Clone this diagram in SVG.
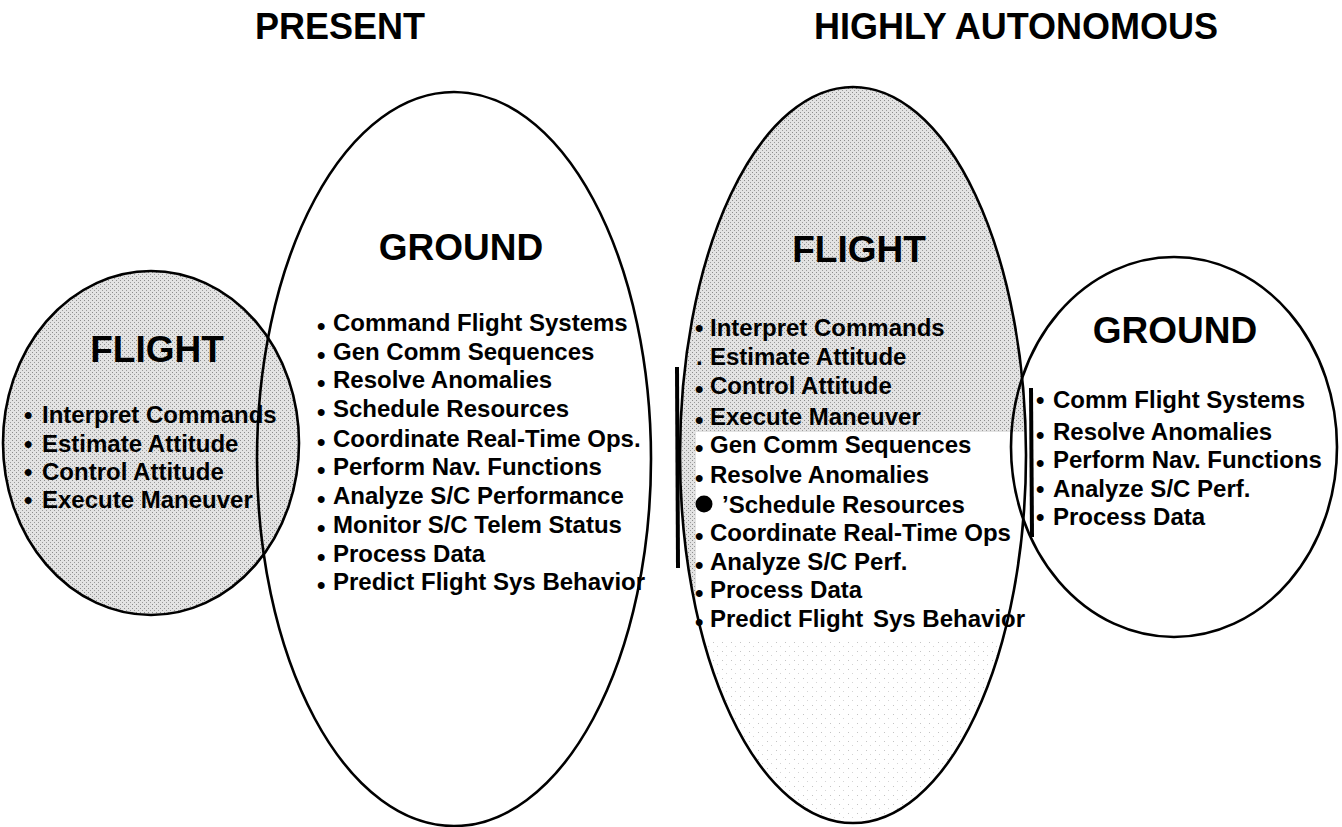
<svg xmlns="http://www.w3.org/2000/svg" width="1342" height="827" viewBox="0 0 1342 827">
  <style>
    text { font-family: "Liberation Sans", Arial, Helvetica, sans-serif; font-weight: bold; fill: #000; }
    .hdr { font-size: 36px; text-anchor: middle; }
    .ttl { font-size: 37px; text-anchor: middle; }
    .itm { font-size: 24px; }
    .bul { font-size: 24px; }
    .outline { fill: none; stroke: #000; stroke-width: 2.6; }
    .bar { fill: none; stroke: #000; stroke-width: 4; }
  </style>
  <defs>
    <pattern id="stip" width="4" height="4" patternUnits="userSpaceOnUse">
      <rect width="4" height="4" fill="#e3e3e3"/>
      <rect x="0" y="0" width="1" height="1" fill="#8c8c8c"/>
      <rect x="2" y="2" width="1" height="1" fill="#9a9a9a"/>
    </pattern>
    <pattern id="stipLight" width="9" height="9" patternUnits="userSpaceOnUse">
      <rect width="9" height="9" fill="#ffffff"/>
      <rect x="2" y="3" width="1" height="1" fill="#c4c4c4"/>
      <rect x="6" y="7" width="1" height="1" fill="#d4d4d4"/>
    </pattern>
    <clipPath id="cpF2">
      <ellipse cx="853" cy="455" rx="173" ry="368"/>
    </clipPath>
  </defs>
  <rect width="1342" height="827" fill="#fff"/>

  <!-- Headers -->
  <g id="header-present"><text class="hdr" x="340" y="39">PRESENT</text></g>
  <g id="header-autonomous"><text class="hdr" x="1016" y="39">HIGHLY AUTONOMOUS</text></g>

  <!-- PRESENT: Flight circle -->
  <g id="present-flight">
    <ellipse cx="151" cy="443" rx="148" ry="172" fill="url(#stip)"/>
    <ellipse class="outline" cx="151" cy="443" rx="148" ry="172"/>
    <text class="ttl" x="157" y="362">FLIGHT</text>
    <text class="bul" x="24" y="423">•</text><text class="itm" x="42" y="423">Interpret Commands</text>
    <text class="bul" x="24" y="452">•</text><text class="itm" x="42" y="452">Estimate Attitude</text>
    <text class="bul" x="24" y="480">•</text><text class="itm" x="42" y="480">Control Attitude</text>
    <text class="bul" x="24" y="508">•</text><text class="itm" x="42" y="508">Execute Maneuver</text>
  </g>

  <!-- PRESENT: Ground ellipse -->
  <g id="present-ground">
    <ellipse class="outline" cx="454" cy="459" rx="197" ry="367"/>
    <text class="ttl" x="461" y="260">GROUND</text>
    <text class="bul" x="317" y="334">•</text><text class="itm" x="333" y="331">Command Flight Systems</text>
    <text class="bul" x="317" y="363">•</text><text class="itm" x="333" y="360">Gen Comm Sequences</text>
    <text class="bul" x="317" y="391">•</text><text class="itm" x="333" y="388">Resolve Anomalies</text>
    <text class="bul" x="317" y="420">•</text><text class="itm" x="333" y="417">Schedule Resources</text>
    <text class="bul" x="317" y="450">•</text><text class="itm" x="333" y="447">Coordinate Real-Time Ops.</text>
    <text class="bul" x="317" y="478">•</text><text class="itm" x="333" y="475">Perform Nav. Functions</text>
    <text class="bul" x="317" y="507">•</text><text class="itm" x="333" y="504">Analyze S/C Performance</text>
    <text class="bul" x="317" y="536">•</text><text class="itm" x="333" y="533">Monitor S/C Telem Status</text>
    <text class="bul" x="317" y="565">•</text><text class="itm" x="333" y="562">Process Data</text>
    <text class="bul" x="317" y="593">•</text><text class="itm" x="333" y="590">Predict Flight Sys Behavior</text>
  </g>

  <!-- HIGHLY AUTONOMOUS: Flight ellipse -->
  <g id="auto-flight">
    <g clip-path="url(#cpF2)">
      <rect x="670" y="80" width="370" height="352" fill="url(#stip)"/>
      <rect x="670" y="432" width="26" height="270" fill="url(#stip)"/>
      <rect x="670" y="640" width="370" height="190" fill="url(#stipLight)"/>
    </g>
    <ellipse class="outline" cx="853" cy="455" rx="173" ry="368"/>
    <path class="bar" d="M677,367 L678,568"/>
    <text class="ttl" x="859" y="262">FLIGHT</text>
    <text class="bul" x="695" y="336">•</text><text class="itm" x="710" y="336">Interpret Commands</text>
    <text class="bul" x="696" y="365">.</text><text class="itm" x="710" y="365">Estimate Attitude</text>
    <text class="bul" x="695" y="397">•</text><text class="itm" x="710" y="394">Control Attitude</text>
    <text class="bul" x="695" y="428">•</text><text class="itm" x="710" y="425">Execute Maneuver</text>
    <text class="bul" x="695" y="456">•</text><text class="itm" x="710" y="453">Gen Comm Sequences</text>
    <text class="bul" x="695" y="486">•</text><text class="itm" x="710" y="483">Resolve Anomalies</text>
    <circle cx="704" cy="504" r="8.5" fill="#000"/><text class="itm" x="722" y="513">’Schedule Resources</text>
    <text class="bul" x="695" y="544">•</text><text class="itm" x="710" y="541">Coordinate Real-Time Ops</text>
    <text class="bul" x="695" y="573">•</text><text class="itm" x="710" y="570">Analyze S/C Perf.</text>
    <text class="bul" x="695" y="601">•</text><text class="itm" x="710" y="598">Process Data</text>
    <text class="bul" x="695" y="630">•</text><text class="itm" x="710" y="627">Predict Flight <tspan x="873">Sys Behavior</tspan></text>
  </g>

  <!-- HIGHLY AUTONOMOUS: Ground circle -->
  <g id="auto-ground">
    <ellipse class="outline" cx="1174" cy="447" rx="163" ry="190"/>
    <path class="bar" d="M1031,388 L1032,537"/>
    <text class="ttl" x="1175" y="343">GROUND</text>
    <text class="bul" x="1036" y="408">•</text><text class="itm" x="1053" y="408">Comm Flight Systems</text>
    <text class="bul" x="1036" y="443">•</text><text class="itm" x="1053" y="440">Resolve Anomalies</text>
    <text class="bul" x="1036" y="471">•</text><text class="itm" x="1053" y="468">Perform Nav. Functions</text>
    <text class="bul" x="1036" y="497">•</text><text class="itm" x="1053" y="497">Analyze S/C Perf.</text>
    <text class="bul" x="1036" y="525">•</text><text class="itm" x="1053" y="525">Process Data</text>
  </g>

  <g id="connectors"></g>
</svg>
